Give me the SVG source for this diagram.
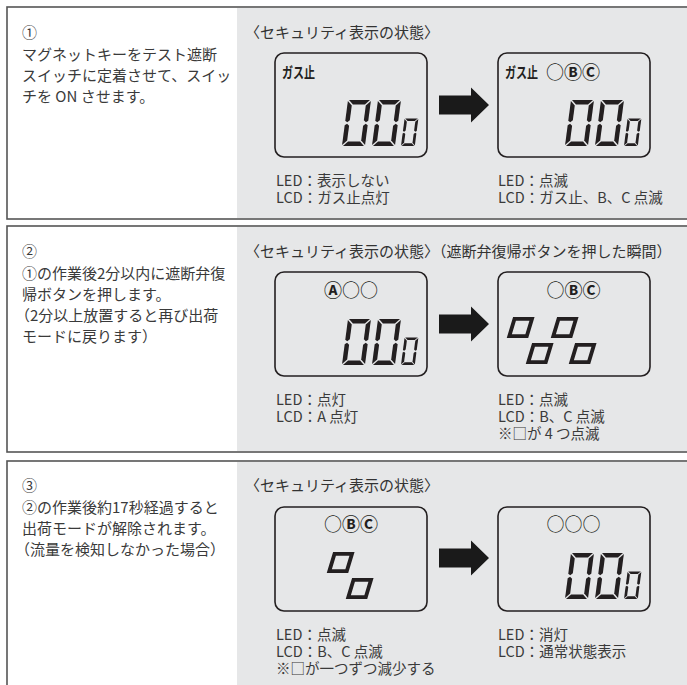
<svg xmlns="http://www.w3.org/2000/svg" width="687" height="685" viewBox="0 0 687 685">
<style>
text{font-family:"Noto Sans CJK JP","Noto Sans",sans-serif;}
.lt{font-size:15px;fill:#3a3a3a}
.hd{font-size:15px;fill:#333}
.cp{font-size:14.5px;fill:#3a3a3a}
.frame{fill:none;stroke:#555;stroke-width:1.6}
.grey{fill:#e6e7e8}
.lcd{fill:none;stroke:#231f20;stroke-width:1.6}
.seg{fill:#231f20}
.sq{fill:none;stroke:#231f20;stroke-width:3.8;stroke-linejoin:miter}
.ind{font-size:18px;fill:#231f20}
.b{font-weight:bold}
.gas{font-size:15px;fill:#231f20;font-weight:bold}
.arw{fill:#1a1a1a}
</style>
<defs>
<g id="dg" class="seg" transform="skewX(-7.5)">
<polygon points="1,0 22,0 17.5,4.5 5.5,4.5"/>
<polygon points="1,46 22,46 17.5,41.5 5.5,41.5"/>
<polygon points="0,1 4.5,5.5 4.5,20.2 2.2,22.2 0,20.8"/>
<polygon points="0,25.2 2.2,23.8 4.5,25.8 4.5,40.5 0,45"/>
<polygon points="23,1 18.5,5.5 18.5,20.2 20.8,22.2 23,20.8"/>
<polygon points="23,25.2 20.8,23.8 18.5,25.8 18.5,40.5 23,45"/>
</g>
<polygon id="sq" class="sq" points="6.5,1.9 24,1.9 18.8,19.1 1.3,19.1"/>
<path id="arrow" d="M0,-9.5H32V-17.5L50,0L32,17.5V9.5H0Z"/>
</defs>

<g id="panel1">
<rect class="grey" x="237" y="8" width="450" height="210"/>
<rect class="frame" x="7" y="7" width="700" height="212"/>
<text class="lt" x="22" y="38">①</text>
<text class="lt" x="22" y="60">マグネットキーをテスト遮断</text>
<text class="lt" x="22" y="81">スイッチに定着させて、スイッ</text>
<text class="lt" x="22" y="102">チを ON させます。</text>
<text class="hd" x="245" y="38">〈セキュリティ表示の状態〉</text>
</g>
<g id="p1-lcd-before">
<rect class="lcd" x="275" y="53" width="152" height="104" rx="9"/>
<text class="gas" x="282" y="78" textLength="33" lengthAdjust="spacingAndGlyphs">ガス止</text>
<use href="#dg" transform="translate(348,100)"/>
<use href="#dg" transform="translate(378,100)"/>
<use href="#dg" transform="translate(404.6,118.4) scale(0.6)"/>
<text class="cp" x="276" y="186">LED：表示しない<tspan x="276" dy="17">LCD：ガス止点灯</tspan></text>
</g>
<g id="p1-lcd-after">
<rect class="lcd" x="498" y="53" width="152" height="104" rx="9"/>
<text class="gas" x="505" y="78" textLength="33" lengthAdjust="spacingAndGlyphs">ガス止</text>
<text class="ind" x="546" y="79">○<tspan class="b">ⒷⒸ</tspan></text>
<use href="#dg" transform="translate(571,100)"/>
<use href="#dg" transform="translate(601,100)"/>
<use href="#dg" transform="translate(627.6,118.4) scale(0.6)"/>
<text class="cp" x="498" y="186">LED：点滅<tspan x="498" dy="17">LCD：ガス止、B、C 点滅</tspan></text>
</g>

<g id="panel2">
<rect class="grey" x="237" y="227" width="450" height="224"/>
<rect class="frame" x="7" y="226" width="700" height="226"/>
<text class="lt" x="22" y="257">②</text>
<text class="lt" x="22" y="279">①の作業後2分以内に遮断弁復</text>
<text class="lt" x="22" y="300">帰ボタンを押します。</text>
<text class="lt" x="15" y="321">（2分以上放置すると再び出荷</text>
<text class="lt" x="22" y="342">モードに戻ります）</text>
<text class="hd" x="245" y="257">〈セキュリティ表示の状態〉（遮断弁復帰ボタンを押した瞬間）</text>
</g>
<g id="p2-lcd-before">
<rect class="lcd" x="275" y="272" width="152" height="104" rx="9"/>
<text class="ind" x="351" y="297" text-anchor="middle"><tspan class="b">Ⓐ</tspan>○○</text>
<use href="#dg" transform="translate(348,319)"/>
<use href="#dg" transform="translate(378,319)"/>
<use href="#dg" transform="translate(404.6,337.4) scale(0.6)"/>
<text class="cp" x="276" y="405">LED：点灯<tspan x="276" dy="17">LCD：A 点灯</tspan></text>
</g>
<g id="p2-lcd-after">
<rect class="lcd" x="498" y="272" width="152" height="104" rx="9"/>
<text class="ind" x="573.5" y="297" text-anchor="middle">○<tspan class="b">ⒷⒸ</tspan></text>
<use href="#sq" x="508" y="317"/>
<use href="#sq" x="527" y="343"/>
<use href="#sq" x="552" y="317"/>
<use href="#sq" x="570" y="343"/>
<text class="cp" x="498" y="405">LED：点滅<tspan x="498" dy="17">LCD：B、C 点滅</tspan><tspan x="498" dy="17">※□が 4 つ点滅</tspan></text>
</g>

<g id="panel3">
<rect class="grey" x="237" y="462" width="450" height="223"/>
<rect class="frame" x="7" y="461" width="700" height="240"/>
<text class="lt" x="22" y="491">③</text>
<text class="lt" x="22" y="513">②の作業後約17秒経過すると</text>
<text class="lt" x="22" y="534">出荷モードが解除されます。</text>
<text class="lt" x="15" y="555">（流量を検知しなかった場合）</text>
<text class="hd" x="245" y="491">〈セキュリティ表示の状態〉</text>
</g>
<g id="p3-lcd-before">
<rect class="lcd" x="275" y="507" width="152" height="104" rx="9"/>
<text class="ind" x="351" y="531" text-anchor="middle">○<tspan class="b">ⒷⒸ</tspan></text>
<use href="#sq" x="328" y="552"/>
<use href="#sq" x="347" y="578"/>
<text class="cp" x="276" y="640">LED：点滅<tspan x="276" dy="17">LCD：B、C 点滅</tspan><tspan x="276" dy="17">※□が一つずつ減少する</tspan></text>
</g>
<g id="p3-lcd-after">
<rect class="lcd" x="498" y="507" width="152" height="104" rx="9"/>
<text class="ind" x="573.5" y="531" text-anchor="middle">○○○</text>
<use href="#dg" transform="translate(571,553)"/>
<use href="#dg" transform="translate(601,553)"/>
<use href="#dg" transform="translate(627.6,571.4) scale(0.6)"/>
<text class="cp" x="498" y="640">LED：消灯<tspan x="498" dy="17">LCD：通常状態表示</tspan></text>
</g>

<g id="connectors" class="arw">
<use href="#arrow" transform="translate(439,105)"/>
<use href="#arrow" transform="translate(439,324)"/>
<use href="#arrow" transform="translate(439,558)"/>
</g>
</svg>
